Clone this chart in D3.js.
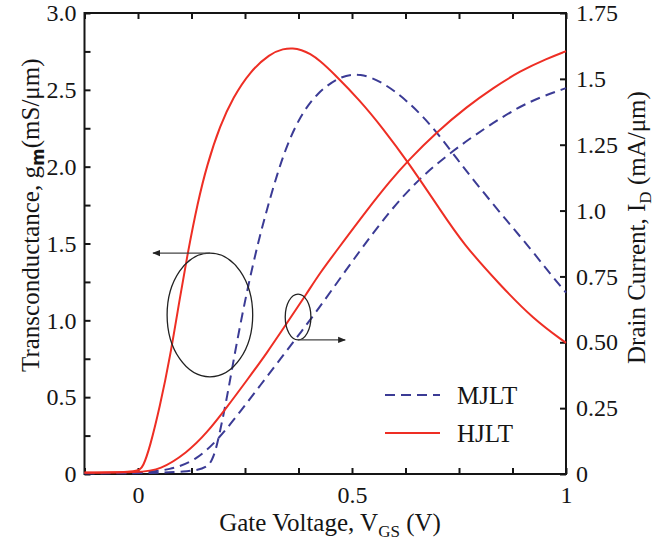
<!DOCTYPE html>
<html>
<head>
<meta charset="utf-8">
<script src="https://cdn.jsdelivr.net/npm/d3@7"></script>
<style>
  body { margin: 0; background: #fff; }
</style>
</head>
<body>
<div id="chart"></div>
<script>
// values: [Vgs (V), value]
const hjltGm = [[-0.125,0.01],[0,0.01],[0.012,0.046],[0.028,0.176],[0.051,0.436],[0.075,0.761],[0.098,1.15],
  [0.117,1.45],[0.139,1.76],[0.161,2.01],[0.192,2.27],[0.222,2.45],[0.262,2.62],[0.308,2.735],[0.340,2.768],
  [0.362,2.772],[0.382,2.76],[0.402,2.735],[0.425,2.69],[0.456,2.61],[0.519,2.43],[0.572,2.25],[0.631,2.03],
  [0.706,1.72],[0.759,1.50],[0.846,1.23],[0.923,1.01],[1.0,0.853]]
const mjltGm = [[-0.125,0.005],[0.145,0.005],[0.175,0.07],[0.192,0.28],[0.208,0.50],[0.222,0.72],[0.238,0.96],
  [0.257,1.22],[0.280,1.50],[0.301,1.72],[0.325,1.95],[0.348,2.14],[0.379,2.33],[0.418,2.48],[0.472,2.59],
  [0.519,2.61],[0.572,2.55],[0.629,2.43],[0.689,2.26],[0.745,2.05],[0.799,1.86],[0.864,1.64],[0.916,1.47],
  [0.958,1.32],[1.0,1.18]]
const hjltId = [[-0.125,0.005],[0.005,0.006],[0.051,0.015],[0.114,0.08],[0.161,0.156],[0.208,0.254],[0.255,0.357],
  [0.301,0.459],[0.348,0.573],[0.395,0.687],[0.425,0.763],[0.465,0.850],[0.535,1.002],[0.589,1.112],[0.631,1.19],
  [0.699,1.30],[0.769,1.395],[0.829,1.465],[0.893,1.53],[0.956,1.577],[1.0,1.605]]
const mjltId = [[-0.125,0.003],[0.005,0.004],[0.075,0.015],[0.138,0.053],[0.192,0.14],[0.238,0.235],[0.285,0.335],
  [0.332,0.435],[0.379,0.535],[0.425,0.634],[0.519,0.85],[0.589,1.0],[0.659,1.125],[0.736,1.228],[0.815,1.318],
  [0.886,1.39],[0.939,1.43],[1.0,1.465]]

const xTicks = d3.range(-0.125, 1.0001, 0.125)
const xLabels = {"0": "0", "0.5": "0.5", "1": "1"}
const gmTicks = d3.range(0, 3.0001, 0.25)
const gmLabels = ["0", "0.5", "1.0", "1.5", "2.0", "2.5", "3.0"]
const idTicks = [0, 0.25, 0.5, 0.75, 1.0, 1.25, 1.5, 1.75]
const idLabels = ["0", "0.25", "0.50", "0.75", "1.0", "1.25", "1.5", "1.75"]

const red = "#ee2e24", blue = "#3b3b95"
const serif = "Liberation Serif"
const ink = "#151515"

const width = 662, height = 544
const margin = {top: 13, right: 96, bottom: 70, left: 84.5}
const w = width - margin.left - margin.right
const h = height - margin.top - margin.bottom

const svg = d3.select("#chart").append("svg")
    .attr("width", width)
    .attr("height", height)
    .attr("font-family", serif)
  .append("g")
    .attr("transform", `translate(${margin.left},${margin.top})`)

const x = d3.scaleLinear().domain([-0.125, 1]).range([0, w])
const yL = d3.scaleLinear().domain([0, 3]).range([h, 0])
const yR = d3.scaleLinear().domain([0, 1.75]).range([h, 0])

// axes, ticks pointing inward
function styleAxis(g) {
  g.attr("font-family", serif).attr("font-size", 24)
  g.select(".domain").remove()
  g.selectAll(".tick line").attr("stroke", ink).attr("stroke-width", 2)
  g.selectAll(".tick text").attr("fill", ink)
}

svg.append("g")
    .attr("transform", `translate(0,${h})`)
    .call(d3.axisBottom(x).tickValues(xTicks).tickSizeInner(-6).tickSizeOuter(0).tickPadding(12)
      .tickFormat(d => xLabels[String(+d.toFixed(3))] || ""))
    .call(styleAxis)

svg.append("g")
    .call(d3.axisTop(x).tickValues(xTicks).tickSizeInner(-6).tickSizeOuter(0).tickFormat(""))
    .call(styleAxis)

svg.append("g")
    .call(d3.axisLeft(yL).tickValues(gmTicks).tickSizeInner(-6).tickSizeOuter(0).tickPadding(8)
      .tickFormat((d, i) => i % 2 === 0 ? gmLabels[i / 2] : ""))
    .call(styleAxis)

svg.append("g")
    .attr("transform", `translate(${w},0)`)
    .call(d3.axisRight(yR).tickValues(idTicks).tickSizeInner(-6).tickSizeOuter(0).tickPadding(10)
      .tickFormat((d, i) => idLabels[i]))
    .call(styleAxis)

svg.append("rect")
    .attr("width", w).attr("height", h)
    .attr("fill", "none").attr("stroke", ink).attr("stroke-width", 2)

// curves
const lineL = d3.line().x(d => x(d[0])).y(d => yL(d[1])).curve(d3.curveBasis)
const lineR = d3.line().x(d => x(d[0])).y(d => yR(d[1])).curve(d3.curveBasis)

const series = [
  {data: mjltGm, line: lineL, color: blue, dash: "10,6"},
  {data: mjltId, line: lineR, color: blue, dash: "10,6"},
  {data: hjltGm, line: lineL, color: red, dash: null},
  {data: hjltId, line: lineR, color: red, dash: null}
]

svg.selectAll(".curve")
  .data(series)
  .join("path")
    .attr("class", "curve")
    .attr("d", d => d.line(d.data))
    .attr("fill", "none")
    .attr("stroke", d => d.color)
    .attr("stroke-width", 2)
    .attr("stroke-dasharray", d => d.dash)

// annotations: ellipses and arrows
const defs = svg.append("defs")
defs.append("marker")
    .attr("id", "arrow")
    .attr("viewBox", "0 0 10 10")
    .attr("refX", 9).attr("refY", 5)
    .attr("markerWidth", 9).attr("markerHeight", 6)
    .attr("orient", "auto")
  .append("path")
    .attr("d", "M0,1 L10,5 L0,9 Z")
    .attr("fill", "#222")

svg.append("ellipse")
    .attr("cx", x(0.168)).attr("cy", yL(1.035))
    .attr("rx", x(0.268) - x(0.168)).attr("ry", yL(0) - yL(0.403))
    .attr("fill", "none").attr("stroke", "#222").attr("stroke-width", 1.3)
svg.append("line")
    .attr("x1", x(0.168)).attr("y1", yL(1.438))
    .attr("x2", x(0.035)).attr("y2", yL(1.438))
    .attr("stroke", "#444").attr("stroke-width", 1.3)
    .attr("marker-end", "url(#arrow)")

svg.append("ellipse")
    .attr("cx", x(0.374)).attr("cy", yR(0.596))
    .attr("rx", x(0.404) - x(0.374)).attr("ry", yR(0) - yR(0.087))
    .attr("fill", "none").attr("stroke", "#222").attr("stroke-width", 1.3)
svg.append("line")
    .attr("x1", x(0.374)).attr("y1", yR(0.509))
    .attr("x2", x(0.484)).attr("y2", yR(0.509))
    .attr("stroke", "#444").attr("stroke-width", 1.3)
    .attr("marker-end", "url(#arrow)")

// legend
const legend = svg.append("g").attr("transform", `translate(${385 - margin.left},${395 - margin.top})`)
const legendItems = [{name: "MJLT", color: blue, dash: "10,6"}, {name: "HJLT", color: red, dash: null}]
legendItems.forEach((d, i) => {
  legend.append("line")
      .attr("x1", 0).attr("x2", 55).attr("y1", i * 38).attr("y2", i * 38)
      .attr("stroke", d.color).attr("stroke-width", 2).attr("stroke-dasharray", d.dash)
  legend.append("text")
      .attr("x", 72).attr("y", i * 38 + 9)
      .attr("font-family", serif).attr("font-size", 25).attr("fill", ink)
      .text(d.name)
})

// axis titles
const xTitle = svg.append("text")
    .attr("x", 330 - margin.left).attr("y", 531 - margin.top)
    .attr("text-anchor", "middle")
    .attr("font-family", serif).attr("font-size", 25).attr("fill", ink)
xTitle.append("tspan").text("Gate Voltage, V")
xTitle.append("tspan").attr("dy", 6).attr("font-size", 17).text("GS")
xTitle.append("tspan").attr("dy", -6).text(" (V)")

const yTitle = svg.append("text")
    .attr("transform", `translate(${39 - margin.left},${372 - margin.top}) rotate(-90)`)
    .attr("font-family", serif).attr("font-size", 25).attr("fill", ink)
yTitle.append("tspan").text("Transconductance,  g")
yTitle.append("tspan").attr("dy", 5).attr("font-size", 17)
    .attr("font-family", "DejaVu Sans").attr("font-weight", "bold").text("m")
yTitle.append("tspan").attr("dy", -5).text("(mS/\u03bcm)")

const y2Title = svg.append("text")
    .attr("transform", `translate(${645 - margin.left},${364 - margin.top}) rotate(-90)`)
    .attr("font-family", serif).attr("font-size", 25).attr("fill", ink)
y2Title.append("tspan").text("Drain Current, I")
y2Title.append("tspan").attr("dy", 6).attr("font-size", 17).text("D")
y2Title.append("tspan").attr("dy", -6).text("  (mA/\u03bcm)")
</script>
</body>
</html>
